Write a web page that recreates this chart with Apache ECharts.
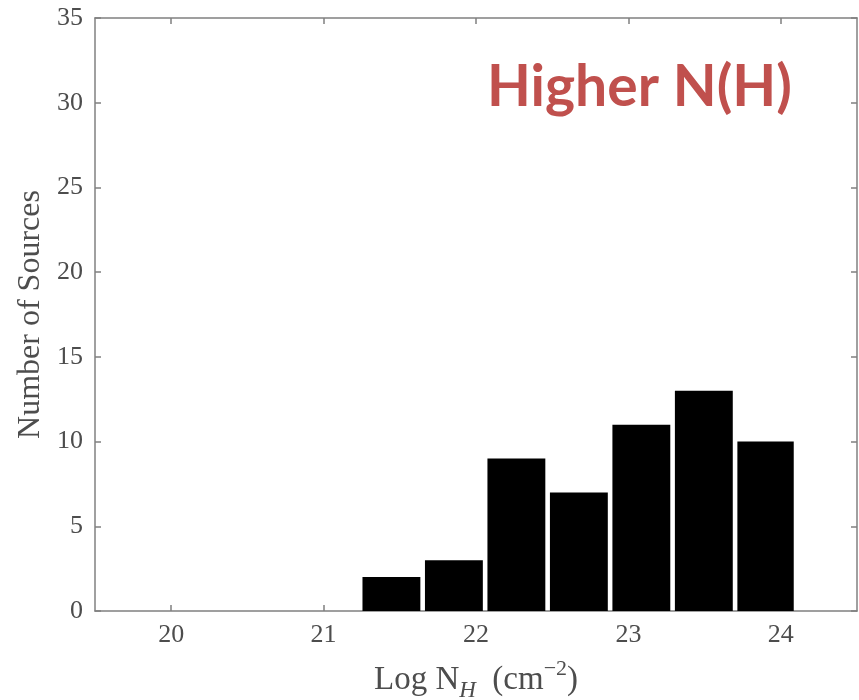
<!DOCTYPE html>
<html>
<head>
<meta charset="utf-8">
<script src="https://cdn.jsdelivr.net/npm/echarts@6/dist/echarts.min.js"></script>
<style>html,body{margin:0;padding:0;background:#fff}#c{width:859px;height:700px}</style>
</head>
<body>
<div id="c"></div>
<script>
// Histogram bin edges (log N_H) and counts
var binEdges = [21.24, 21.65, 22.06, 22.47, 22.88, 23.29, 23.70, 24.10];
var counts = [2, 3, 9, 7, 11, 13, 10];
var xTicks = [20, 21, 22, 23, 24];
var yTicks = [0, 5, 10, 15, 20, 25, 30, 35];
var annotation = 'Higher N(H)';

var bars = counts.map(function (c, i) { return [binEdges[i], binEdges[i + 1], c]; });

var axisGray = '#808080';
var textGray = '#4d4d4d';
var serif = '"Liberation Serif", "DejaVu Serif", serif';

var chart = echarts.init(document.getElementById('c'), null, {renderer: 'canvas'});
var baseX = {
  type: 'value', min: 19.5, max: 24.5,
  axisLine: {show: true, onZero: false, lineStyle: {color: axisGray, width: 1.5}},
  axisTick: {show: true, inside: true, length: 6, customValues: xTicks, lineStyle: {color: axisGray, width: 1.5}},
  splitLine: {show: false}
};
var baseY = {
  type: 'value', min: 0, max: 35, interval: 5,
  axisLine: {show: true, onZero: false, lineStyle: {color: axisGray, width: 1.5}},
  axisTick: {show: true, inside: true, length: 6, customValues: yTicks, lineStyle: {color: axisGray, width: 1.5}},
  splitLine: {show: false}
};
chart.setOption({
  animation: false,
  backgroundColor: '#ffffff',
  grid: {left: 95, right: 2, top: 18, bottom: 89, containLabel: false, outerBoundsMode: 'none'},
  xAxis: [
    Object.assign({}, baseX, {
      position: 'bottom',
      axisLabel: {show: true, customValues: xTicks, margin: 11, color: textGray, fontFamily: serif, fontSize: 26},
      name: '{a|Log N}{b|H}{a|  (cm}{c|\u22122}{a|)}',
      nameLocation: 'middle', nameGap: 47,
      nameTextStyle: {
        rich: {
          a: {fontFamily: serif, fontSize: 33, color: textGray, lineHeight: 44},
          b: {fontFamily: serif, fontSize: 23, fontStyle: 'italic', color: textGray, lineHeight: 30, verticalAlign: 'bottom'},
          c: {fontFamily: serif, fontSize: 22, color: textGray, lineHeight: 26, verticalAlign: 'top'}
        }
      }
    }),
    Object.assign({}, baseX, {position: 'top', axisLabel: {show: false}})
  ],
  yAxis: [
    Object.assign({}, baseY, {
      position: 'left',
      axisLabel: {show: true, customValues: yTicks, margin: 12, color: textGray, fontFamily: serif, fontSize: 26},
      name: 'Number of Sources', nameLocation: 'middle', nameGap: 48,
      nameTextStyle: {fontFamily: serif, fontSize: 32, color: textGray}
    }),
    Object.assign({}, baseY, {position: 'right', axisLabel: {show: false}})
  ],
  graphic: [{
    type: 'text', left: 487, top: 59,
    style: {text: annotation, fill: '#C0504D', font: 'bold 57px Lato, "Open Sans", sans-serif'}
  }],
  series: [{
    type: 'custom',
    xAxisIndex: 0, yAxisIndex: 0,
    data: bars,
    encode: {x: [0, 1], y: 2},
    renderItem: function (params, api) {
      var p0 = api.coord([api.value(0), 0]);
      var p1 = api.coord([api.value(1), api.value(2)]);
      var gap = 2.3;
      return {
        type: 'rect',
        shape: {x: p0[0] + gap, y: p1[1], width: p1[0] - p0[0] - 2 * gap, height: p0[1] - p1[1]},
        style: {fill: '#000000'}
      };
    }
  }]
});
</script>
</body>
</html>
